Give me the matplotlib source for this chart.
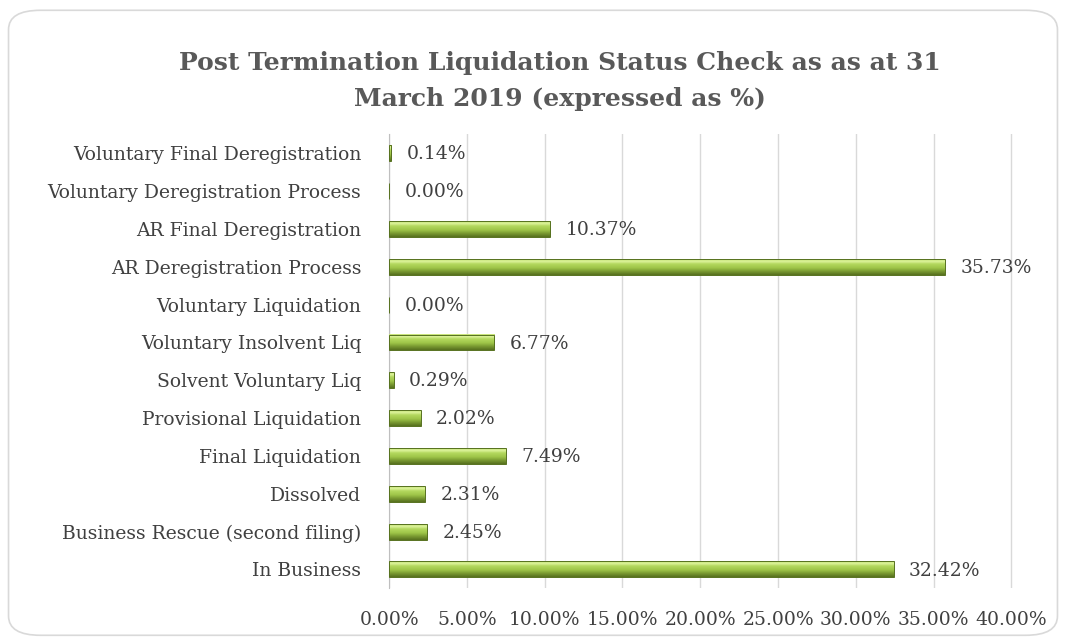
import numpy as np
import matplotlib.pyplot as plt
from matplotlib.patches import FancyBboxPatch
from matplotlib.colors import LinearSegmentedColormap

# categories bottom -> top
categories = ["In Business", "Business Rescue (second filing)", "Dissolved",
              "Final Liquidation", "Provisional Liquidation", "Solvent Voluntary Liq",
              "Voluntary Insolvent Liq", "Voluntary Liquidation", "AR Deregistration Process",
              "AR Final Deregistration", "Voluntary Deregistration Process",
              "Voluntary Final Deregistration"]
values = [32.42, 2.45, 2.31, 7.49, 2.02, 0.29, 6.77, 0.00, 35.73, 10.37, 0.00, 0.14]
xticks = [0, 5, 10, 15, 20, 25, 30, 35, 40]

FONT = "DejaVu Serif"
TXT = "#404040"

fig = plt.figure(figsize=(10.66, 6.43), dpi=100)
ax = fig.add_axes([0.365, 0.085, 0.585, 0.706])

# rounded chart border
border = FancyBboxPatch((0.008, 0.012), 0.984, 0.972,
                        boxstyle="round,pad=0,rounding_size=0.03",
                        transform=fig.transFigure, fill=False,
                        edgecolor="#d9d9d9", linewidth=1.2)
fig.patches.append(border)

# bevel gradient, bottom -> top
bevel = LinearSegmentedColormap.from_list(
    "bevel", [(0, "#566f1e"), (0.25, "#7d9e34"), (0.45, "#9fc649"),
              (0.7, "#b4d85f"), (0.85, "#dcf29a"), (1, "#c4e275")])
grad = np.linspace(0, 1, 64).reshape(-1, 1)

y = list(range(len(categories)))
h = 0.42
bars = ax.barh(y, values, height=h, color="none", edgecolor="#56711f", linewidth=0.7, zorder=4)
for b in bars:
    x0, y0 = b.get_x(), b.get_y()
    w, hh = b.get_width(), b.get_height()
    if w <= 0:
        continue
    ax.imshow(grad, cmap=bevel, origin="lower", aspect="auto",
              extent=(x0, x0 + w, y0, y0 + hh), zorder=3, interpolation="bilinear")

for yi, v in zip(y, values):
    ax.text(v + 1.0, yi - 0.03, f"{v:.2f}%", va="center", ha="left",
            fontsize=13.5, color=TXT, family=FONT, zorder=6)

ax.set_xlim(0, 40.08)
ax.set_ylim(-0.5, len(categories) - 0.5)
ax.set_xticks(xticks)
ax.set_xticklabels([f"{t:.2f}%" for t in xticks], family=FONT, fontsize=13.5, color=TXT)
ax.set_yticks(y)
ax.set_yticklabels(categories, family=FONT, fontsize=13.5, color=TXT)
ax.tick_params(length=0, pad=20, axis="y")
ax.tick_params(length=0, pad=16, axis="x")
ax.grid(axis="x", color="#d9d9d9", linewidth=1, zorder=0)
for s in ["top", "right", "bottom"]:
    ax.spines[s].set_visible(False)
ax.spines["left"].set_color("#bfbfbf")
ax.set_axisbelow(True)

fig.text(0.525, 0.874, "Post Termination Liquidation Status Check as as at 31\nMarch 2019 (expressed as %)",
         ha="center", va="center", fontsize=18, fontweight="bold", color="#595959",
         family=FONT, linespacing=1.65)

fig.savefig("out.png", dpi=100)
